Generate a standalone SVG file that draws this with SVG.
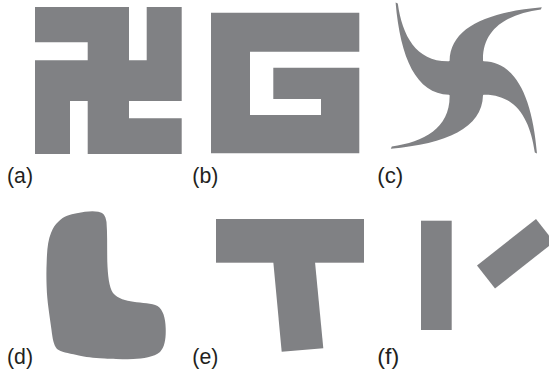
<svg xmlns="http://www.w3.org/2000/svg" width="549" height="373" viewBox="0 0 549 373">
<style>
.s{fill:#808184;stroke:none}
.l{font-family:"Liberation Sans",Arial,sans-serif;font-size:22px;fill:#231f20}
</style>
<rect width="549" height="373" fill="#fff"/>
<g id="a">
<polygon class="s" points="35,7 129,7 129,60.3 146.7,60.3 146.7,7 181.7,7 181.7,101 129,101 129,118.3 181.7,118.3 181.7,154 87.7,154 87.7,101 70,101 70,154 35,154 35,60.3 87.7,60.3 87.7,42.3 35,42.3"/>
<text class="l" x="7" y="183" textLength="26" lengthAdjust="spacingAndGlyphs">(a)</text>
</g>
<g id="b">
<polygon class="s" points="211,12.7 359.3,12.7 359.3,51.7 250,51.7 250,115 321,115 321,99 273.3,99 273.3,67.7 359.3,67.7 359.3,153.3 211,153.3"/>
<text class="l" x="192.3" y="183" textLength="26" lengthAdjust="spacingAndGlyphs">(b)</text>
</g>
<g id="c">
<path class="s" transform="translate(466.3,78)" d="M-16.7,-17.3 C-16,-50 20,-66 75.5,-70.7 L74.5,-68.5 C42,-64 16,-50 16.7,-17.3 L17.3,-16.7 C50,-16 66,20 70.7,75.5 L68.5,74.5 C64,42 50,16 17.3,16.7 L16.7,17.3 C16,50 -20,66 -75.5,70.7 L-74.5,68.5 C-42,64 -16,50 -16.7,17.3 L-17.3,16.7 C-50,16 -66,-20 -70.7,-75.5 L-68.5,-74.5 C-64,-42 -50,-16 -17.3,-16.7 Z"/>
<text class="l" x="377.3" y="183" textLength="26" lengthAdjust="spacingAndGlyphs">(c)</text>
</g>
<g id="d">
<path class="s" d="M58.3,221.7 C64,216 70,214.5 76.7,213.3 C85,211.5 92,210.5 98.3,211.7 C103,212.5 105.5,215 106.5,222 C107.5,235 107,250 107.3,261.7 C107.8,275 109,287 113,293 C118,299 126,300.5 133.3,301.7 C142,303 152,303 157.5,306 C163,309.5 165.5,318 165.7,328.3 C166,338 165,347 160,352 C154,357 143,358.8 133.3,359 C120,359.5 108,359 100,358.3 C90,357.5 82,356.5 76.7,355 C68,353 61,352 57,349 C53.5,345 52.5,338 51.5,330 C49.5,315 47,300 46.7,288.3 C46.3,278 46.3,270 46.7,261.7 C47,250 48,240 51,233 C53,228 55,224.5 58.3,221.7 Z"/>
<text class="l" x="7" y="364" textLength="26" lengthAdjust="spacingAndGlyphs">(d)</text>
</g>
<g id="e">
<rect class="s" x="216" y="219" width="148" height="43.7"/>
<polygon class="s" points="273.3,262 315,262 323.3,348.3 281.7,351.7"/>
<text class="l" x="192.3" y="364" textLength="26" lengthAdjust="spacingAndGlyphs">(e)</text>
</g>
<g id="f">
<rect class="s" x="421" y="220.7" width="30.7" height="109.3"/>
<polygon class="s" points="477,265.5 536,219 554,242 495,288.5"/>
<text class="l" x="377.3" y="364" textLength="22" lengthAdjust="spacingAndGlyphs">(f)</text>
</g>
</svg>
